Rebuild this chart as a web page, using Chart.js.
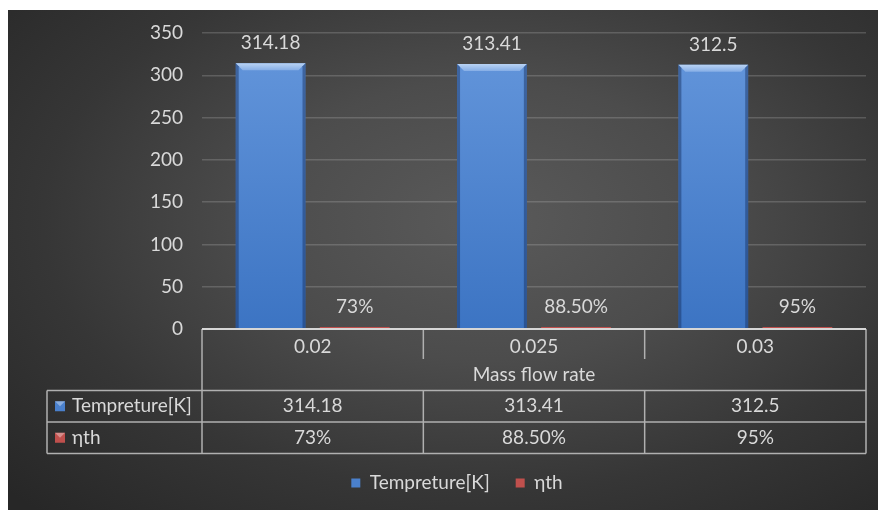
<!DOCTYPE html>
<html>
<head>
<meta charset="utf-8">
<script src="https://cdn.jsdelivr.net/npm/chart.js@4/dist/chart.umd.min.js"></script>
<style>
  html, body { margin: 0; padding: 0; background: #ffffff; }
  #wrap {
    position: absolute; left: 8px; top: 10px; width: 870px; height: 500px;
    background: radial-gradient(ellipse 75% 80% at 55% 42%, #5a5a5a 0%, #4c4c4c 35%, #363636 68%, #272727 100%);
  }
  canvas { display: block; }
</style>
</head>
<body>
<div id="wrap"><canvas id="c" width="870" height="500"></canvas></div>
<script>
// Mass flow rate categories and the two measured series
const categories = ['0.02', '0.025', '0.03'];
const axisTitle = 'Mass flow rate';
const seriesNames = ['Tempreture[K]', 'ηth'];
const temperature = [314.18, 313.41, 312.5];
const efficiency = [0.73, 0.885, 0.95];
const yMin = 0, yMax = 350, yStep = 50;

const TEXT = '#d9d9d9';
const FONT = 'Lato, "Open Sans", sans-serif';
const FS = 19;
const BLUE = '#4a80cc';
const RED = '#c0504d';

const fmtTemp = v => String(v);
const fmtPct = v => {
  const p = Math.round(v * 10000) / 100;
  return Number.isInteger(p) ? p + '%' : p.toFixed(2) + '%';
};
const formatters = [fmtTemp, fmtPct];

// Table geometry below the plot
const TABLE_LEFT = 39;
const HEADER_H = 61.5;
const ROW_H = 31.5;

function blueFill(ctx) {
  const area = ctx.chart.chartArea;
  if (!area) return BLUE;
  const g = ctx.chart.ctx.createLinearGradient(0, area.top, 0, area.bottom);
  g.addColorStop(0, '#6597dc');
  g.addColorStop(1, '#3c74c3');
  return g;
}

// Bevelled look for the temperature bars
const bevelPlugin = {
  id: 'bevel',
  afterDatasetsDraw(chart) {
    const c = chart.ctx;
    const meta = chart.getDatasetMeta(0);
    meta.data.forEach(el => {
      const { x, y, base, width } = el.getProps(['x', 'y', 'base', 'width'], true);
      const l = x - width / 2, r = x + width / 2, b = 7, s = 3;
      c.save();
      const gt = c.createLinearGradient(0, y, 0, y + b);
      gt.addColorStop(0, '#b9d3f4');
      gt.addColorStop(1, '#86aee6');
      c.fillStyle = gt;
      c.beginPath();
      c.moveTo(l, y); c.lineTo(r, y); c.lineTo(r - b, y + b); c.lineTo(l + b, y + b); c.closePath();
      c.fill();
      c.fillStyle = 'rgba(20,45,90,0.45)';
      c.beginPath();
      c.moveTo(l, y); c.lineTo(l + s, y + s); c.lineTo(l + s, base); c.lineTo(l, base); c.closePath();
      c.fill();
      c.beginPath();
      c.moveTo(r, y); c.lineTo(r - s, y + s); c.lineTo(r - s, base); c.lineTo(r, base); c.closePath();
      c.fill();
      c.restore();
    });
  }
};

// Value labels above each bar
const valueLabelPlugin = {
  id: 'valueLabels',
  afterDatasetsDraw(chart) {
    const c = chart.ctx;
    c.save();
    c.fillStyle = TEXT;
    c.font = FS + 'px ' + FONT;
    c.textAlign = 'center';
    c.textBaseline = 'middle';
    chart.data.datasets.forEach((ds, di) => {
      chart.getDatasetMeta(di).data.forEach((el, i) => {
        c.fillText(formatters[di](ds.data[i]), el.x, el.y - 20);
      });
    });
    c.restore();
  }
};

// Small bevelled key square
function keySquare(c, x, y, size, color) {
  c.fillStyle = color;
  c.fillRect(x, y, size, size);
  c.fillStyle = 'rgba(255,255,255,0.35)';
  c.beginPath();
  c.moveTo(x, y); c.lineTo(x + size, y); c.lineTo(x + size / 2, y + size / 2); c.closePath();
  c.fill();
}

// Data table under the category axis
const tablePlugin = {
  id: 'dataTable',
  afterDraw(chart) {
    const c = chart.ctx;
    const xs = chart.scales.x;
    const area = chart.chartArea;
    const top = area.bottom;
    const left = area.left, right = area.right;
    const centers = categories.map((_, i) => xs.getPixelForValue(i));
    const dividers = centers.slice(1).map((cx, i) => (cx + centers[i]) / 2);
    const r1 = top + HEADER_H, r2 = r1 + ROW_H, r3 = r2 + ROW_H;

    c.save();
    c.strokeStyle = '#b0b0b0';
    c.lineWidth = 1.5;
    c.beginPath();
    c.moveTo(left, top); c.lineTo(left, r3);
    c.moveTo(right, top); c.lineTo(right, r3);
    dividers.forEach(d => { c.moveTo(d, top); c.lineTo(d, top + 30); c.moveTo(d, r1); c.lineTo(d, r3); });
    [r1, r2, r3].forEach(yy => { c.moveTo(TABLE_LEFT, yy); c.lineTo(right, yy); });
    c.moveTo(TABLE_LEFT, r1); c.lineTo(TABLE_LEFT, r3);
    c.stroke();

    c.strokeStyle = '#d6d6d6';
    c.lineWidth = 2;
    c.beginPath(); c.moveTo(left, top); c.lineTo(right, top); c.stroke();

    c.fillStyle = TEXT;
    c.font = FS + 'px ' + FONT;
    c.textBaseline = 'middle';
    c.textAlign = 'center';
    c.fillText(axisTitle, (left + right) / 2, top + 46);

    const rows = [temperature, efficiency];
    const rowMid = [r1 + ROW_H / 2, r2 + ROW_H / 2];
    const colors = [BLUE, RED];
    rows.forEach((vals, ri) => {
      vals.forEach((v, i) => c.fillText(formatters[ri](v), centers[i], rowMid[ri]));
    });
    c.textAlign = 'left';
    rows.forEach((_, ri) => {
      keySquare(c, TABLE_LEFT + 8, rowMid[ri] - 5, 10, colors[ri]);
      c.fillStyle = TEXT;
      c.fillText(seriesNames[ri], TABLE_LEFT + 25, rowMid[ri]);
    });
    c.restore();
  }
};

new Chart(document.getElementById('c'), {
  type: 'bar',
  data: {
    labels: categories,
    datasets: [
      { label: seriesNames[0], data: temperature, backgroundColor: blueFill, borderWidth: 0 },
      { label: seriesNames[1], data: efficiency, backgroundColor: RED, borderWidth: 0, minBarLength: 2 }
    ]
  },
  options: {
    responsive: false,
    animation: false,
    devicePixelRatio: 1,
    layout: { padding: { top: 23, right: 12, bottom: 7.5, left: 40 } },
    datasets: { bar: { categoryPercentage: 0.76, barPercentage: 0.83 } },
    scales: {
      x: {
        grid: { display: false, drawTicks: false },
        border: { display: false },
        ticks: { color: TEXT, font: { family: FONT, size: FS }, padding: 6.5 },
        afterFit(s) { s.height = 118.5; }
      },
      y: {
        min: yMin, max: yMax,
        grid: { color: 'rgba(210,210,210,0.22)', lineWidth: 1.5, drawTicks: false },
        border: { display: false },
        ticks: { stepSize: yStep, color: TEXT, font: { family: FONT, size: FS }, padding: 19 },
        afterFit(s) { s.width = 154; s.paddingTop = 0; s.paddingBottom = 0; }
      }
    },
    plugins: {
      tooltip: { enabled: false },
      legend: {
        position: 'bottom',
        labels: {
          color: TEXT,
          font: { family: FONT, size: FS },
          boxWidth: 9, boxHeight: 9, padding: 26,
          generateLabels(chart) {
            return Chart.defaults.plugins.legend.labels.generateLabels(chart).map((it, i) => {
              it.fillStyle = [BLUE, RED][i];
              it.strokeStyle = [BLUE, RED][i];
              it.lineWidth = 0;
              return it;
            });
          }
        }
      }
    }
  },
  plugins: [bevelPlugin, valueLabelPlugin, tablePlugin]
});
</script>
</body>
</html>
